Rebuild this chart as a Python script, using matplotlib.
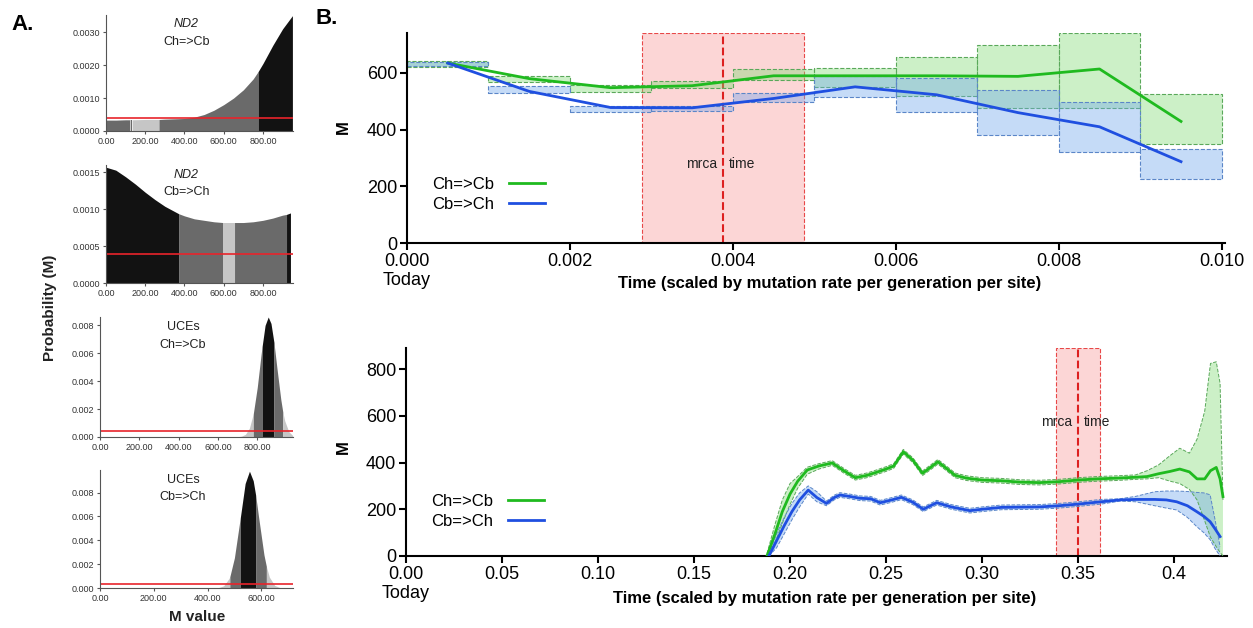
import numpy as np
import matplotlib
matplotlib.use("Agg")
import matplotlib.pyplot as plt

plt.rcParams['font.family'] = ['Liberation Sans', 'DejaVu Sans']

# ---------------- panel A: posterior densities of M ----------------
nd2_cb_m = [0, 50, 100, 120, 125, 133, 200, 270, 300, 400, 450, 500, 550, 600, 650, 700, 750, 775, 800, 850, 900, 950]
nd2_cb_p = [0.00033, 0.00033, 0.00034, 0.00034, 0.00034, 0.00034, 0.00035, 0.00035, 0.00036, 0.00038, 0.00042,
            0.0005, 0.00063, 0.0008, 0.001, 0.00125, 0.00158, 0.0018, 0.00205, 0.0026, 0.0031, 0.0035]
nd2_cb_regions = [(0, 120, 'd'), (120, 125, 'l'), (125, 133, 'd'), (133, 270, 'l'), (270, 775, 'd'), (775, 950, 'k')]

nd2_ch_m = [0, 50, 100, 150, 200, 250, 300, 370, 400, 450, 500, 550, 595, 600, 650, 655, 700, 750, 800, 850, 900, 920, 940]
nd2_ch_p = [0.00157, 0.00153, 0.00144, 0.00134, 0.00123, 0.00113, 0.00104, 0.00094, 0.00091, 0.00087, 0.00085,
            0.00083, 0.00082, 0.00082, 0.00082, 0.00082, 0.00082, 0.00083, 0.00085, 0.00088, 0.00092, 0.00093, 0.00095]
nd2_ch_regions = [(0, 370, 'k'), (370, 595, 'd'), (595, 655, 'l'), (655, 920, 'd'), (920, 940, 'k')]

uce_cb_m = [700, 720, 740, 760, 780, 800, 820, 825, 840, 856, 870, 885, 900, 920, 930, 940, 960, 980]
uce_cb_p = [0.00002, 0.00006, 0.00019, 0.00063, 0.00167, 0.00354, 0.00596, 0.0065, 0.0080, 0.0086, 0.00814,
            0.00678, 0.00497, 0.00269, 0.0018, 0.00116, 0.0004, 0.00011]
uce_cb_regions = [(700, 780, 'l'), (780, 825, 'd'), (825, 885, 'k'), (885, 930, 'd'), (930, 980, 'l')]

uce_ch_m = [440, 460, 480, 483, 500, 520, 522, 540, 556, 570, 579, 590, 610, 619, 630, 650, 670]
uce_ch_p = [0.00003, 0.00018, 0.0008, 0.00095, 0.00253, 0.0056, 0.0059, 0.00877, 0.0098, 0.0090, 0.0078,
            0.00595, 0.00278, 0.0018, 0.00092, 0.00021, 0.00003]
uce_ch_regions = [(440, 483, 'l'), (483, 522, 'd'), (522, 579, 'k'), (579, 619, 'd'), (619, 670, 'l')]

uniform_prior = [0.00038, 0.0004, 0.00042, 0.0003]

# ---------------- panel B top: ND2 migration through time ----------------
nd2_edges = [0.000, 0.001, 0.002, 0.003, 0.004, 0.005, 0.006, 0.007, 0.008, 0.009]
nd2_mid = [0.0005, 0.0015, 0.0025, 0.0035, 0.0045, 0.0055, 0.0065, 0.0075, 0.0085, 0.0095]
nd2_green_med = [635, 580, 548, 555, 590, 590, 590, 588, 614, 429]
nd2_green_lo = [622, 569, 534, 546, 575, 552, 518, 475, 475, 349]
nd2_green_hi = [643, 591, 558, 572, 613, 617, 658, 700, 741, 525]
nd2_blue_med = [635, 535, 478, 477, 510, 551, 523, 460, 410, 287]
nd2_blue_lo = [626, 531, 464, 465, 497, 516, 463, 381, 320, 225]
nd2_blue_hi = [640, 554, 484, 482, 531, 590, 581, 540, 497, 332]
nd2_mrca = (0.00289, 0.00388, 0.00487)

# ---------------- panel B bottom: UCE migration through time ----------------
g_t = [0.188, 0.192, 0.196, 0.200, 0.204, 0.209, 0.215, 0.222, 0.228, 0.234, 0.240, 0.245, 0.250, 0.254, 0.259,
       0.264, 0.269, 0.273, 0.277, 0.281, 0.286, 0.292, 0.300, 0.310, 0.320, 0.330, 0.340, 0.350, 0.360, 0.370,
       0.380, 0.386, 0.392, 0.398, 0.403, 0.408, 0.412, 0.416, 0.419, 0.422, 0.424, 0.4255]
g_med = [0, 90, 190, 265, 320, 368, 385, 398, 365, 335, 345, 358, 372, 385, 446,
         410, 354, 378, 403, 378, 345, 333, 325, 322, 316, 314, 318, 325, 330, 333,
         337, 340, 352, 362, 372, 360, 330, 330, 365, 379, 330, 254]
g_lo = [0, 50, 140, 220, 290, 350, 372, 388, 355, 325, 335, 348, 362, 375, 436,
        400, 344, 368, 393, 368, 335, 323, 315, 312, 306, 304, 308, 315, 320, 323,
        328, 330, 335, 320, 310, 285, 240, 150, 80, 40, 15, 0]
g_hi = [10, 130, 240, 310, 340, 380, 395, 408, 375, 345, 355, 368, 382, 395, 456,
        420, 364, 388, 413, 388, 355, 343, 335, 332, 326, 324, 328, 335, 340, 343,
        347, 365, 390, 430, 461, 440, 500, 620, 824, 831, 739, 240]

b_t = [0.189, 0.193, 0.197, 0.201, 0.205, 0.2095, 0.214, 0.219, 0.223, 0.226, 0.231, 0.2365, 0.242, 0.247, 0.253,
       0.258, 0.264, 0.2694, 0.2764, 0.284, 0.2937, 0.300, 0.310, 0.320, 0.330, 0.340, 0.350, 0.362, 0.372, 0.380,
       0.390, 0.396, 0.4014, 0.407, 0.4118, 0.4155, 0.4188, 0.4215, 0.424]
b_med = [0, 65, 130, 190, 240, 282, 250, 225, 250, 261, 255, 247, 245, 228, 240,
         251, 230, 200, 228, 210, 194, 200, 208, 209, 210, 215, 222, 232, 240, 242,
         242, 240, 232, 215, 190, 170, 147, 115, 83]
b_lo = [0, 35, 95, 155, 210, 265, 232, 215, 240, 251, 245, 237, 235, 218, 230,
        241, 220, 190, 218, 200, 184, 190, 198, 199, 200, 205, 212, 222, 235, 232,
        215, 205, 197, 165, 126, 100, 70, 30, 0]
b_hi = [8, 95, 165, 225, 270, 300, 275, 235, 260, 271, 265, 257, 255, 238, 250,
        261, 240, 210, 238, 220, 204, 210, 218, 219, 220, 225, 232, 242, 245, 255,
        275, 278, 278, 276, 272, 270, 262, 150, 40]
uce_mrca = (0.3385, 0.350, 0.3615)

GREEN = '#1fba1f'
BLUE = '#1f4fe0'
GREEN_FILL = (0.50, 0.86, 0.46, 0.40)
BLUE_FILL = (0.44, 0.65, 0.93, 0.40)
SHADES = {'k': '#121212', 'd': '#6a6a6a', 'l': '#c6c6c6'}

W, H = 1253, 628
fig = plt.figure(figsize=(W / 100, H / 100), dpi=100)


def box(l, t, r, b):
    return [l / W, 1 - b / H, (r - l) / W, (b - t) / H]


def density_panel(rect, m, p, regions, prior, xlim, ylim, yticks, yfmt, xticks, title1, title2, italic):
    ax = fig.add_axes(rect)
    m = np.array(m)
    p = np.array(p)
    for a, b, c in regions:
        sel = (m >= a) & (m <= b)
        ax.fill_between(m, 0, p, where=sel, color=SHADES[c], lw=0)
    ax.axhline(prior, color='#e8242b', lw=1.2)
    ax.set_xlim(*xlim)
    ax.set_ylim(*ylim)
    ax.set_yticks(yticks)
    ax.set_yticklabels([yfmt % v for v in yticks])
    ax.set_xticks(xticks)
    ax.set_xticklabels(['%.2f' % v for v in xticks])
    for s in ['top', 'right']:
        ax.spines[s].set_visible(False)
    for s in ['left', 'bottom']:
        ax.spines[s].set_color('#555555')
        ax.spines[s].set_linewidth(0.8)
    ax.tick_params(labelsize=6.5, length=2.5, width=0.8, color='#555555', labelcolor='#333333', pad=1.5)
    ax.text(0.43, 0.97, title1, transform=ax.transAxes, ha='center', va='top', fontsize=9,
            style='italic' if italic else 'normal', color='#222222')
    ax.text(0.43, 0.82, title2, transform=ax.transAxes, ha='center', va='top', fontsize=9, color='#222222')
    return ax


density_panel(box(106, 15, 293, 131), nd2_cb_m, nd2_cb_p, nd2_cb_regions, uniform_prior[0], (0, 953), (0, 0.00352),
              [0, 0.001, 0.002, 0.003], '%.4f', [0, 200, 400, 600, 800], 'ND2', 'Ch=>Cb', True)
density_panel(box(106, 165, 293, 283), nd2_ch_m, nd2_ch_p, nd2_ch_regions, uniform_prior[1], (0, 953), (0, 0.0016),
              [0, 0.0005, 0.001, 0.0015], '%.4f', [0, 200, 400, 600, 800], 'ND2', 'Cb=>Ch', True)
density_panel(box(100, 317, 293, 437), uce_cb_m, uce_cb_p, uce_cb_regions, uniform_prior[2], (0, 982), (0, 0.0086),
              [0, 0.002, 0.004, 0.006, 0.008], '%.3f', [0, 200, 400, 600, 800], 'UCEs', 'Ch=>Cb', False)
density_panel(box(100, 470, 293, 588), uce_ch_m, uce_ch_p, uce_ch_regions, uniform_prior[3], (0, 718), (0, 0.0099),
              [0, 0.002, 0.004, 0.006, 0.008], '%.3f', [0, 200, 400, 600], 'UCEs', 'Cb=>Ch', False)

fig.text(50 / W, 1 - 308 / H, 'Probability (M)', rotation=90, ha='center', va='center', fontsize=11,
         fontweight='bold', color='#222222')
fig.text(197 / W, 1 - 617 / H, 'M value', ha='center', va='center', fontsize=11, fontweight='bold', color='#222222')
fig.text(23 / W, 1 - 25 / H, 'A.', ha='center', va='center', fontsize=16, fontweight='bold')
fig.text(327 / W, 1 - 18 / H, 'B.', ha='center', va='center', fontsize=16, fontweight='bold')


def style_b(ax):
    for s in ['top', 'right']:
        ax.spines[s].set_visible(False)
    for s in ['left', 'bottom']:
        ax.spines[s].set_linewidth(1.5)
    ax.tick_params(labelsize=13, length=5, width=1.5, pad=2)


def mrca(ax, span, ytext):
    lo, mid, hi = span
    ax.axvspan(lo, hi, facecolor='#fcd6d6', edgecolor='#e84848', ls='--', lw=0.8, zorder=0)
    ax.axvline(mid, color='#dd2020', ls='--', lw=1.5, zorder=1)
    ax.annotate('mrca', (mid, ytext), xytext=(-4, 0), textcoords='offset points', ha='right', va='center',
                fontsize=10, color='#222222')
    ax.annotate('time', (mid, ytext), xytext=(4, 0), textcoords='offset points', ha='left', va='center',
                fontsize=10, color='#222222')


# top panel B
ax1 = fig.add_axes(box(407, 33, 1225, 243))
mrca(ax1, nd2_mrca, 279)
ax1.bar(nd2_edges, np.array(nd2_green_hi) - np.array(nd2_green_lo), bottom=nd2_green_lo, width=0.001, align='edge',
        facecolor=GREEN_FILL, edgecolor='#5aa85a', ls='--', lw=0.8, zorder=2)
ax1.bar(nd2_edges, np.array(nd2_blue_hi) - np.array(nd2_blue_lo), bottom=nd2_blue_lo, width=0.001, align='edge',
        facecolor=BLUE_FILL, edgecolor='#5b86c8', ls='--', lw=0.8, zorder=2)
ax1.plot(nd2_mid, nd2_green_med, color=GREEN, lw=2, label='Ch=>Cb', zorder=4)
ax1.plot(nd2_mid, nd2_blue_med, color=BLUE, lw=2, label='Cb=>Ch', zorder=4)
ax1.set_xlim(0, 0.01004)
ax1.set_ylim(0, 741)
ax1.set_yticks([0, 200, 400, 600])
xt = [0, 0.002, 0.004, 0.006, 0.008, 0.010]
ax1.set_xticks(xt)
ax1.set_xticklabels(['0.000\nToday'] + ['%.3f' % v for v in xt[1:]])
style_b(ax1)
ax1.legend(loc='center left', bbox_to_anchor=(0.02, 0.23), frameon=False, markerfirst=False, fontsize=12,
           handlelength=2.2, handletextpad=0.9, labelspacing=0.3, borderpad=0)

# bottom panel B
ax2 = fig.add_axes(box(406, 348, 1227, 556))
mrca(ax2, uce_mrca, 573)
ax2.fill_between(g_t, g_lo, g_hi, facecolor=GREEN_FILL, lw=0, zorder=2)
ax2.fill_between(b_t, b_lo, b_hi, facecolor=BLUE_FILL, lw=0, zorder=2)
for t, v in [(g_t, g_lo), (g_t, g_hi)]:
    ax2.plot(t, v, color='#5aa85a', ls='--', lw=0.7, zorder=3)
for t, v in [(b_t, b_lo), (b_t, b_hi)]:
    ax2.plot(t, v, color='#5b86c8', ls='--', lw=0.7, zorder=3)
ax2.plot(g_t, g_med, color=GREEN, lw=2, label='Ch=>Cb', zorder=4)
ax2.plot(b_t, b_med, color=BLUE, lw=2, label='Cb=>Ch', zorder=4)
ax2.set_xlim(0, 0.4276)
ax2.set_ylim(0, 890)
ax2.set_yticks([0, 200, 400, 600, 800])
xt2 = [0, 0.05, 0.10, 0.15, 0.20, 0.25, 0.30, 0.35, 0.4]
ax2.set_xticks(xt2)
ax2.set_xticklabels(['0.00\nToday'] + ['%.2f' % v for v in xt2[1:-1]] + ['0.4'])
style_b(ax2)
ax2.legend(loc='center left', bbox_to_anchor=(0.02, 0.214), frameon=False, markerfirst=False, fontsize=12,
           handlelength=2.2, handletextpad=0.9, labelspacing=0.3, borderpad=0)

xlabel = 'Time (scaled by mutation rate per generation per site)'
fig.text(830 / W, 1 - 283 / H, xlabel, ha='center', va='center', fontsize=12, fontweight='bold')
fig.text(825 / W, 1 - 598 / H, xlabel, ha='center', va='center', fontsize=12, fontweight='bold')
fig.text(343 / W, 1 - 127 / H, 'M', rotation=90, ha='center', va='center', fontsize=12, fontweight='bold')
fig.text(343 / W, 1 - 447 / H, 'M', rotation=90, ha='center', va='center', fontsize=12, fontweight='bold')

fig.savefig('out.png', dpi=100)
